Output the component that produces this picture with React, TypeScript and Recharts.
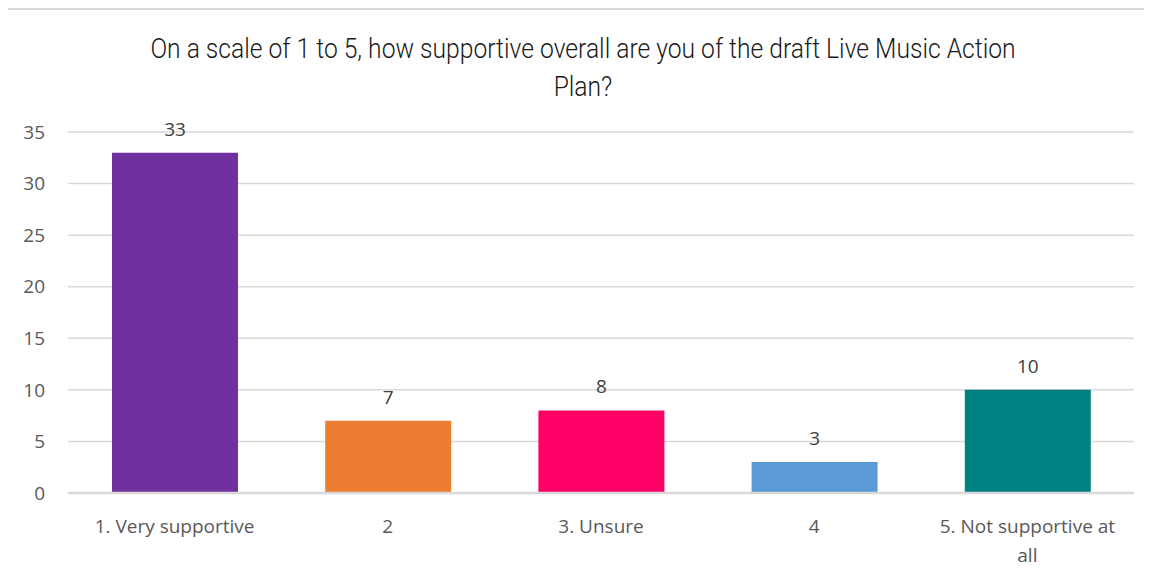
import { BarChart, Bar, XAxis, YAxis, CartesianGrid, Cell, LabelList } from 'recharts';

const categories = ['1. Very supportive', '2', '3. Unsure', '4', '5. Not supportive at all'];
const responses = [33, 7, 8, 3, 10];
const barColors = ['#7030A0', '#ED7D31', '#FF0066', '#5B9BD5', '#008080'];
const yTicks = [0, 5, 10, 15, 20, 25, 30, 35];
const titleLines = ['On a scale of 1 to 5, how supportive overall are you of the draft Live Music Action', 'Plan?'];

const chartData = categories.map((name, i) => ({ name, value: responses[i] }));

const wrapLabel = (text: string, maxChars: number) => {
  const words = text.split(' ');
  const lines: string[] = [];
  let cur = '';
  words.forEach((w) => {
    const next = cur ? cur + ' ' + w : w;
    if (next.length > maxChars && cur) {
      lines.push(cur);
      cur = w;
    } else {
      cur = next;
    }
  });
  if (cur) lines.push(cur);
  return lines;
};

const CategoryTick = (props: any) => {
  const { x, y, payload } = props;
  const lines = wrapLabel(String(payload.value), 20);
  return (
    <text x={x} y={y} textAnchor="middle" fill="#595959" fontSize={19} fontFamily="'Open Sans', 'Noto Sans', sans-serif">
      {lines.map((line, i) => (
        <tspan key={i} x={x} dy={i === 0 ? 32 : 29}>
          {line}
        </tspan>
      ))}
    </text>
  );
};

export default function App() {
  return (
    <div style={{ position: 'relative', margin: -8, width: 1152, height: 579, background: '#fff', overflow: 'hidden' }}>
      <div
        style={{
          position: 'absolute',
          left: 0,
          top: 30,
          width: 1166,
          textAlign: 'center',
          fontFamily: "Roboto, 'DejaVu Sans', sans-serif",
          fontWeight: 300,
          fontSize: 28,
          lineHeight: '38px',
          color: '#1a1a1a',
          transform: 'scaleX(0.88)',
          transformOrigin: '583px 0',
        }}
      >
        {titleLines.map((l, i) => (
          <div key={i}>{l}</div>
        ))}
      </div>
      <div style={{ position: 'absolute', left: 0, top: 0 }}>
        <BarChart
          width={1152}
          height={579}
          data={chartData}
          margin={{ top: 132, right: 18, bottom: 0, left: 0 }}
        >
          <CartesianGrid vertical={false} stroke="#d9d9d9" strokeWidth={1.5} />
          <XAxis
            dataKey="name"
            axisLine={{ stroke: '#d9d9d9', strokeWidth: 2.5 }}
            tickLine={false}
            tick={<CategoryTick />}
            interval={0}
            height={86}
          />
          <YAxis
            width={68}
            domain={[0, 35]}
            ticks={yTicks}
            axisLine={false}
            tickLine={false}
            tickSize={0}
            tickMargin={23}
            tick={{ fill: '#595959', fontSize: 19, fontFamily: "'Open Sans', 'Noto Sans', sans-serif" }}
          />
          <Bar dataKey="value" barSize={126} isAnimationActive={false}>
            {chartData.map((d, i) => (
              <Cell key={d.name} fill={barColors[i]} />
            ))}
            <LabelList
              dataKey="value"
              position="top"
              offset={17}
              fill="#404040"
              fontSize={19}
              fontFamily="'Open Sans', 'Noto Sans', sans-serif"
            />
          </Bar>
        </BarChart>
      </div>
      <div
        style={{
          position: 'absolute',
          left: 2,
          top: 8,
          width: 1160,
          height: 590,
          border: '2px solid #d9d9d9',
          boxSizing: 'border-box',
          pointerEvents: 'none',
        }}
      />
    </div>
  );
}
